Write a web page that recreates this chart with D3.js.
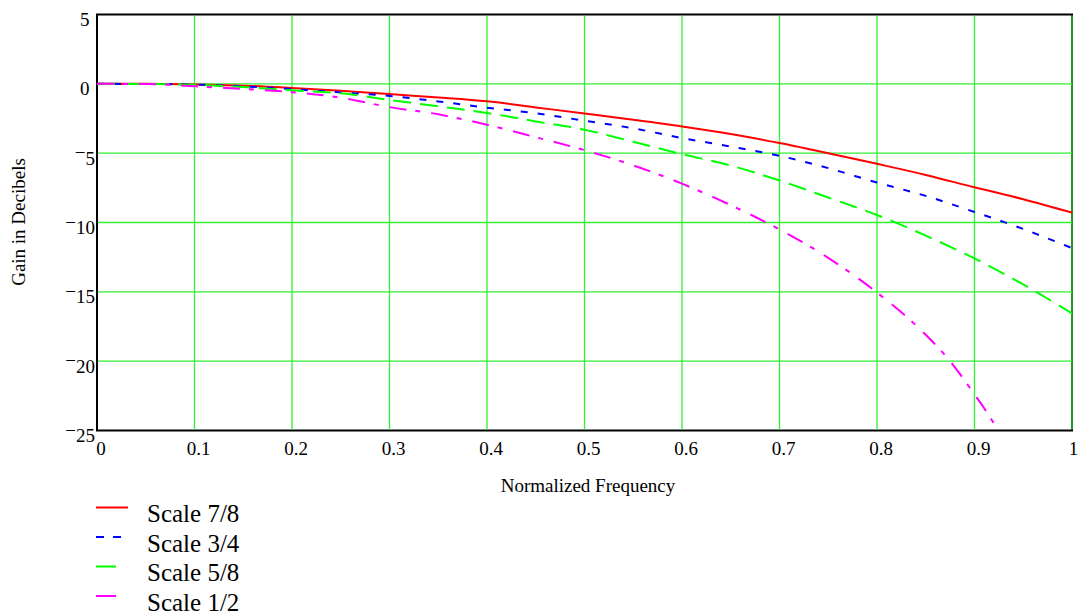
<!DOCTYPE html>
<html>
<head>
<meta charset="utf-8">
<script src="https://cdn.jsdelivr.net/npm/d3@7"></script>
<style>
  html, body { margin: 0; padding: 0; background: #fff; }
  svg { display: block; }
  text { font-family: "Liberation Serif", "Times New Roman", serif; fill: #000; }
</style>
</head>
<body>
<svg id="chart" width="1078" height="614" font-family="Liberation Serif, serif"></svg>
<script>
// ---- data ----
const freq = [0, 0.05, 0.1, 0.15, 0.2, 0.25, 0.3, 0.35, 0.4, 0.45, 0.5, 0.55, 0.6, 0.65, 0.7, 0.75, 0.8, 0.85, 0.9, 0.95, 1.0];
const scale78 = [0, 0, -0.05, -0.13, -0.3, -0.5, -0.74, -0.98, -1.26, -1.7, -2.14, -2.59, -3.07, -3.62, -4.27, -5.0, -5.77, -6.57, -7.46, -8.32, -9.29];
const scale34 = [0, -0.01, -0.05, -0.18, -0.38, -0.62, -0.87, -1.27, -1.72, -2.12, -2.66, -3.21, -3.91, -4.52, -5.19, -6.08, -7.12, -8.08, -9.24, -10.47, -11.85];
const scale58 = [0, -0.01, -0.07, -0.23, -0.47, -0.68, -1.16, -1.62, -2.1, -2.71, -3.31, -4.18, -5.07, -5.89, -6.97, -8.2, -9.46, -10.95, -12.59, -14.47, -16.55];
const freqHalf = [0, 0.05, 0.1, 0.15, 0.2, 0.25, 0.3, 0.35, 0.4, 0.45, 0.5, 0.55, 0.6, 0.65, 0.7, 0.75, 0.8, 0.85, 0.875, 0.9, 0.91, 0.92, 0.93];
const scale12 = [0, -0.01, -0.18, -0.37, -0.6, -1.0, -1.68, -2.2, -2.95, -3.85, -4.78, -5.88, -7.2, -8.75, -10.5, -12.55, -15.05, -18.1, -20.0, -22.4, -23.4, -24.5, -25.8];

const seriesNames = ["Scale 7/8", "Scale 3/4", "Scale 5/8", "Scale 1/2"];
const xTicks = [0, 0.1, 0.2, 0.3, 0.4, 0.5, 0.6, 0.7, 0.8, 0.9, 1];
const yTicks = [5, 0, -5, -10, -15, -20, -25];
const xTitle = "Normalized Frequency";
const yTitle = "Gain in Decibels";

// ---- styles ----
const colors = ["#ff0000", "#0000ff", "#00ff00", "#ff00ff"];
const dashes = [null, "7,10", "18,9", "17,9,5,11"];
const legendDash = [null, "8,9", null, null];
const legendLen = [32, 25, 20, 20];

const svg = d3.select("#chart");
const pLeft = 97, pRight = 1072, pTop = 14.5, pBottom = 430.5;

const x = d3.scaleLinear().domain([0, 1]).range([pLeft, pRight]);
const y = d3.scaleLinear().domain([-25, 5]).range([pBottom, pTop]);

svg.append("defs").append("clipPath").attr("id", "plotclip")
  .append("rect").attr("x", pLeft).attr("y", pTop).attr("width", pRight - pLeft).attr("height", pBottom - pTop);

// frame
svg.append("rect")
  .attr("x", pLeft).attr("y", pTop).attr("width", pRight - pLeft).attr("height", pBottom - pTop)
  .attr("fill", "none").attr("stroke", "#000").attr("stroke-width", 2);

// grid
const grid = svg.append("g");
grid.selectAll("line.vx").data(xTicks.filter(d => d > 0)).join("line")
  .attr("x1", d => x(d)).attr("x2", d => x(d)).attr("y1", pTop + 1).attr("y2", pBottom - 1)
  .attr("stroke", "#33ee33").attr("stroke-width", 1.3);
grid.selectAll("line.hy").data(yTicks.filter(d => d < 5 && d > -25)).join("line")
  .attr("x1", pLeft + 1).attr("x2", pRight).attr("y1", d => y(d)).attr("y2", d => y(d))
  .attr("stroke", "#33ee33").attr("stroke-width", 1.3);

// series
const series = [
  freq.map((f, i) => [f, scale78[i]]),
  freq.map((f, i) => [f, scale34[i]]),
  freq.map((f, i) => [f, scale58[i]]),
  freqHalf.map((f, i) => [f, scale12[i]])
];
const line = d3.line().x(d => x(d[0])).y(d => y(d[1])).curve(d3.curveMonotoneX);
const plot = svg.append("g").attr("clip-path", "url(#plotclip)");
series.forEach((s, i) => {
  plot.append("path").datum(s)
    .attr("d", line)
    .attr("fill", "none")
    .attr("stroke", colors[i])
    .attr("stroke-width", 2)
    .attr("stroke-dasharray", dashes[i]);
});

// y tick labels (minus drawn raised, as in the reference)
const yLab = svg.append("g").attr("font-size", 19);
yTicks.forEach(v => {
  const t = yLab.append("text")
    .attr("text-anchor", "end")
    .attr("x", v < 0 ? 95 : 89.5)
    .attr("y", y(v) + 11.5);
  if (v < 0) {
    t.append("tspan").attr("dy", -5.5).text("\u2212");
    t.append("tspan").attr("dy", 5.5).text(String(Math.abs(v)));
  } else {
    t.text(String(v));
  }
});

// x tick labels
svg.append("g").attr("font-size", 19)
  .selectAll("text").data(xTicks).join("text")
  .attr("text-anchor", "middle")
  .attr("x", d => d === 1 ? x(d) + 1.5 : x(d) + 4)
  .attr("y", 455)
  .text(d => String(d));

// axis titles
svg.append("text")
  .attr("font-size", 19)
  .attr("text-anchor", "middle")
  .attr("x", 588).attr("y", 491.5)
  .text(xTitle);
svg.append("text")
  .attr("font-size", 19)
  .attr("text-anchor", "middle")
  .attr("transform", "translate(25,222) rotate(-90)")
  .text(yTitle);

// legend
const lg = svg.append("g");
seriesNames.forEach((name, i) => {
  const ly = 507.5 + i * 29.5;
  lg.append("line")
    .attr("x1", 96).attr("x2", 96 + legendLen[i])
    .attr("y1", ly).attr("y2", ly)
    .attr("stroke", colors[i]).attr("stroke-width", 2)
    .attr("stroke-dasharray", legendDash[i]);
  lg.append("text")
    .attr("font-size", 25)
    .attr("x", 147).attr("y", ly + 14.5)
    .text(name);
});
</script>
</body>
</html>
